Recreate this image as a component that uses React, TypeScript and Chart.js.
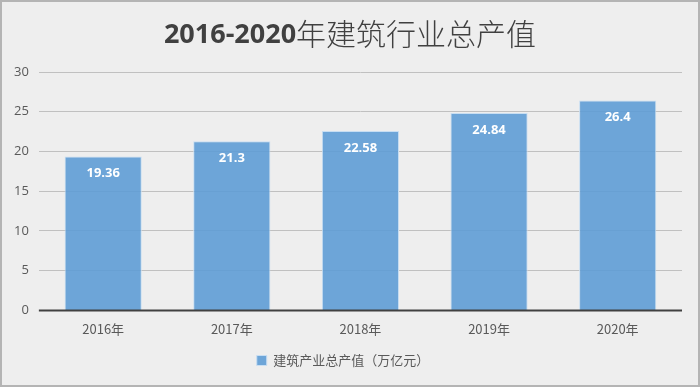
import React, { useEffect, useRef } from "react";
import { Chart, registerables } from "chart.js";

Chart.register(...registerables);

const categories = ["2016年", "2017年", "2018年", "2019年", "2020年"];
const values = [19.36, 21.3, 22.58, 24.84, 26.4];
const seriesName = "建筑产业总产值（万亿元）";
const titleLatin = "2016-2020";
const titleCjk = "年建筑行业总产值";

const titlePlugin = {
  id: "mixedTitle",
  afterDraw(chart: any) {
    const ctx = chart.ctx;
    ctx.save();
    const f1 = "bold 27px 'Open Sans', sans-serif";
    const f2 = "300 30px 'Noto Sans CJK SC', sans-serif";
    ctx.font = f1;
    const w1 = ctx.measureText(titleLatin).width;
    ctx.font = f2;
    const w2 = ctx.measureText(titleCjk).width;
    const x0 = chart.width / 2 - (w1 + w2) / 2;
    const y = 32;
    ctx.textBaseline = "middle";
    ctx.textAlign = "left";
    ctx.fillStyle = "#404040";
    ctx.font = f1;
    ctx.fillText(titleLatin, x0, y + 1);
    ctx.font = f2;
    ctx.fillText(titleCjk, x0 + w1, y);
    ctx.restore();
  },
};

const labelPlugin = {
  id: "barLabels",
  afterDatasetsDraw(chart: any) {
    const ctx = chart.ctx;
    const meta = chart.getDatasetMeta(0);
    ctx.save();
    ctx.fillStyle = "#ffffff";
    ctx.font = "bold 13px 'Open Sans', 'DejaVu Sans', sans-serif";
    ctx.textAlign = "center";
    ctx.textBaseline = "middle";
    meta.data.forEach((bar: any, i: number) => {
      ctx.fillText(String(values[i]), bar.x, bar.y + 17);
    });
    ctx.restore();
  },
};

const zeroLinePlugin = {
  id: "zeroLine",
  afterDatasetsDraw(chart: any) {
    const ctx = chart.ctx;
    const y = chart.scales.y.getPixelForValue(0);
    ctx.save();
    ctx.strokeStyle = "#404040";
    ctx.lineWidth = 2;
    ctx.beginPath();
    ctx.moveTo(chart.chartArea.left, y);
    ctx.lineTo(chart.chartArea.right, y);
    ctx.stroke();
    ctx.restore();
  },
};

export default function App() {
  const ref = useRef<HTMLCanvasElement>(null);
  useEffect(() => {
    if (!ref.current) return;
    const chart = new Chart(ref.current, {
      type: "bar",
      data: {
        labels: categories,
        datasets: [
          {
            label: seriesName,
            data: values,
            backgroundColor: "rgba(91,155,213,0.88)",
            borderColor: "rgba(200,222,242,1)",
            borderWidth: 1,
            categoryPercentage: 0.6,
            barPercentage: 1,
          },
        ],
      },
      options: {
        animation: false,
        responsive: true,
        maintainAspectRatio: false,
        layout: { padding: { left: 2, right: 16, top: 70, bottom: 8 } },
        plugins: {
          title: { display: false },
          legend: {
            display: true,
            position: "bottom",
            labels: {
              color: "#595959",
              font: { size: 13, family: "'Noto Sans CJK SC', sans-serif" },
              boxWidth: 10,
              boxHeight: 10,
              padding: 14,
            },
          },
          tooltip: { enabled: false },
        },
        scales: {
          x: {
            grid: { display: false },
            border: { display: false },
            ticks: { color: "#595959", font: { size: 13, family: "'Noto Sans CJK SC', sans-serif" } },
          },
          y: {
            min: 0,
            max: 30,
            ticks: { stepSize: 5, color: "#595959", font: { size: 13, family: "'Open Sans', sans-serif" }, padding: 10 },
            grid: { color: "#c0c0c0", lineWidth: 1, drawTicks: false },
            border: { display: false },
          },
        },
      },
      plugins: [labelPlugin, zeroLinePlugin, titlePlugin],
    });
    return () => chart.destroy();
  }, []);
  return (
    <div
      style={{
        position: "fixed",
        left: 0,
        top: 0,
        width: 700,
        height: 387,
        boxSizing: "border-box",
        border: "2px solid #b4b4b4",
        background: "#eeeeee",
      }}
    >
      <canvas ref={ref} />
    </div>
  );
}
